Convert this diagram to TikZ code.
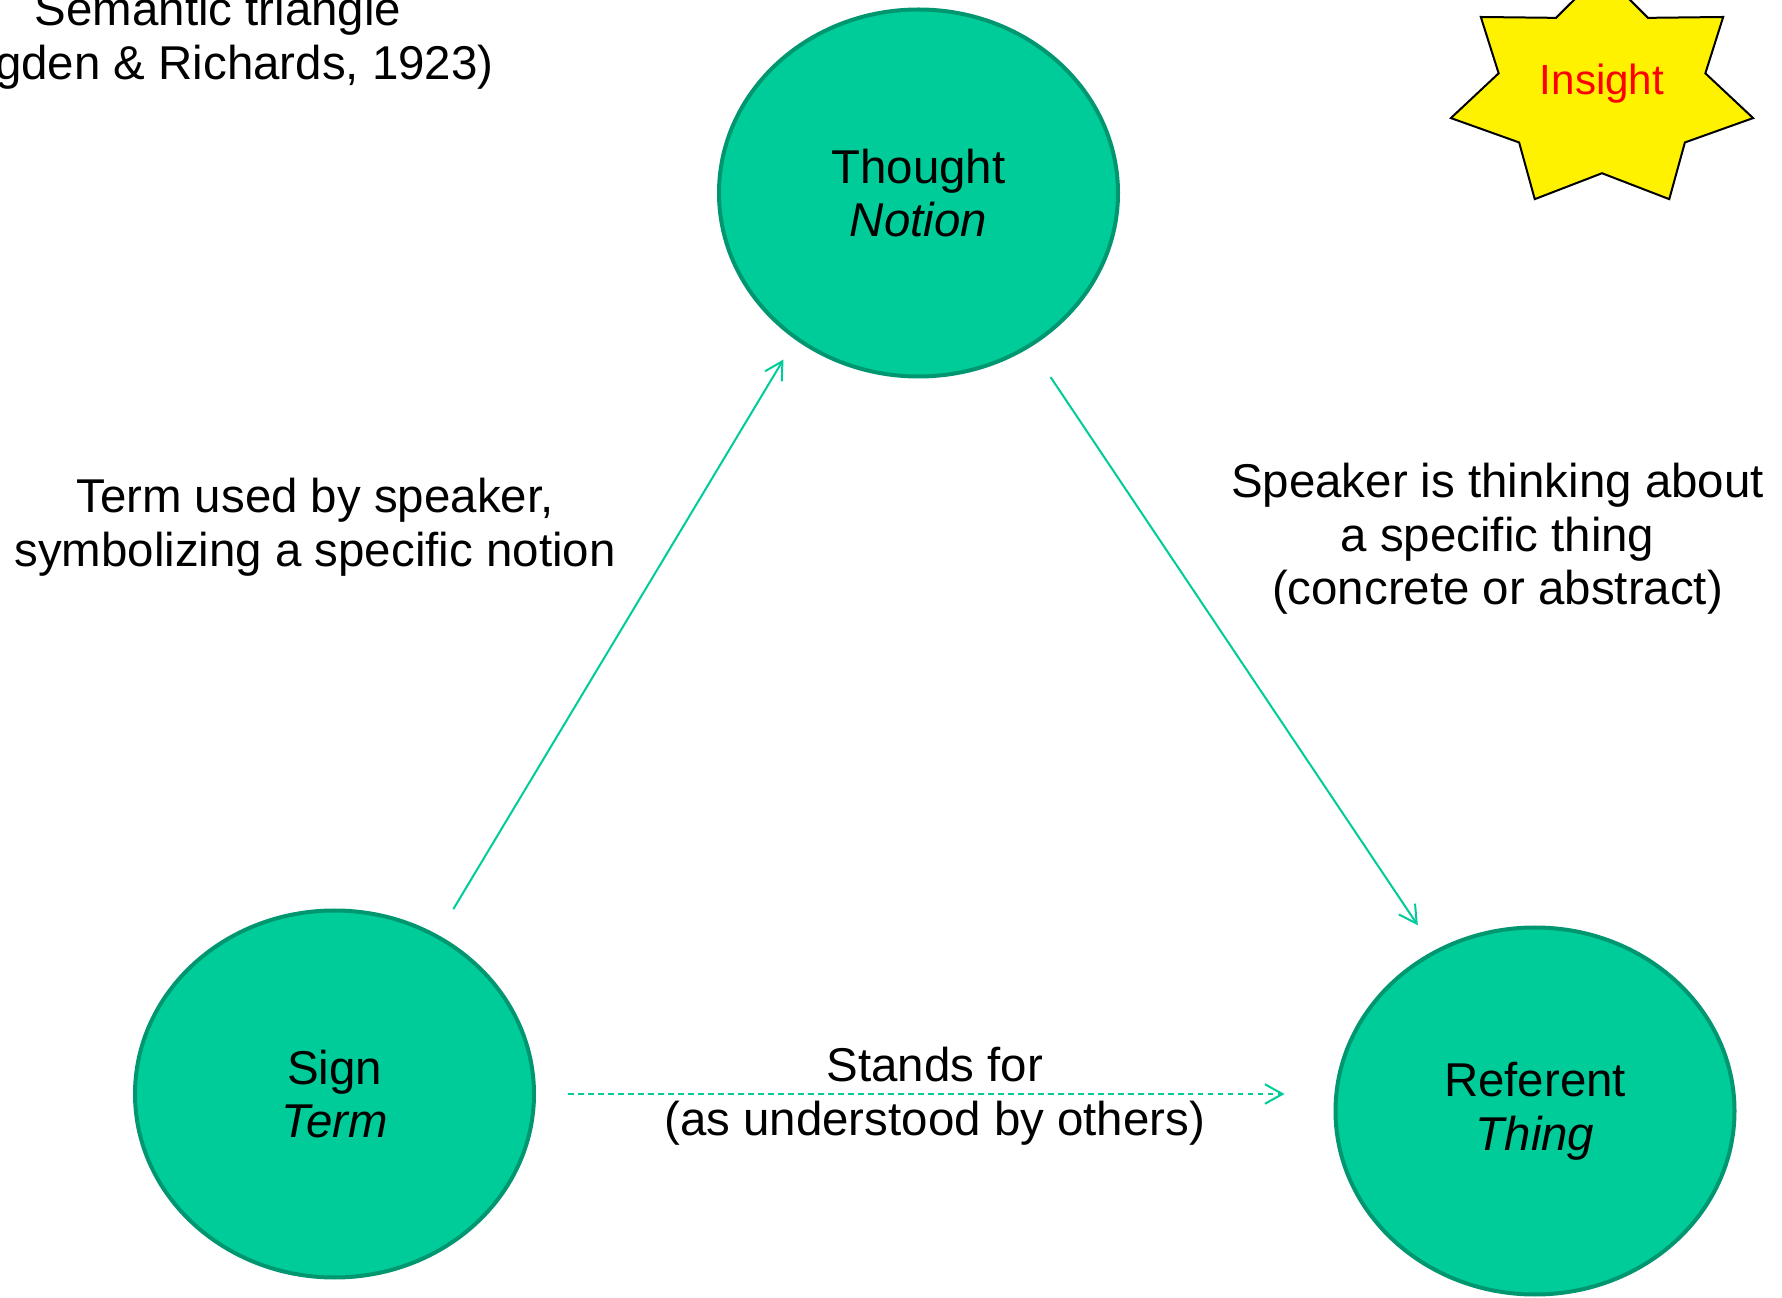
\documentclass[tikz,border=0pt]{standalone}
\usepackage{fontspec}
\setmainfont{Liberation Sans}
\usepackage{tikz}
\usetikzlibrary{arrows.meta,shapes,positioning,calc}
\definecolor{triangle-green}{RGB}{0,204,153}
\definecolor{triangle-edge}{RGB}{0,150,112}

\begin{document}
\begin{tikzpicture}[
>={Straight Barb[length=3.5mm,width=3.9mm]}, font=\fontsize{27}{30.5}\selectfont,
corner-node/.style = {ellipse,draw=triangle-edge,fill=triangle-green,line width=0.08cm,minimum width=7.98cm,minimum height=7.34cm,inner sep=0pt,align=center},
link/.style = {->,draw=triangle-green,line width=0.04cm},
label-node/.style = {align=center},
star-shape/.style = {draw=black,fill=yellow,line width=0.04cm,line join=miter}
]

\useasboundingbox (0,0) rectangle (35.64,25.94);

\node [corner-node] (thought) at (18.37, 22.08) {Thought\\\textit{Notion}};
\node [corner-node] (sign) at (6.69, 4.06) {Sign\\\textit{Term}};
\node [corner-node] (referent) at (30.70, 3.72) {Referent\\\textit{Thing}};

% star
\begin{scope}[shift={(32.04,24.11)}, xscale=3.1, yscale=2.39]
\draw[star-shape] (90:1) \foreach \k in {1,...,13} { -- ({90+\k*180/7}:{1-0.316*isodd(\k)}) } -- cycle;
\end{scope}
\node [text=red, font=\fontsize{24}{28}\selectfont] (insight) at (32.04, 24.26) {Insight};

% labels
\node [label-node] (title) at (4.36, 25.13) {Semantic triangle\\(Ogden \& Richards, 1923)};
\node [label-node] (term-label) at (6.30, 15.39) {Term used by speaker,\\symbolizing a specific notion};
\node [label-node] (thing-label) at (29.95, 15.16) {Speaker is thinking about\\a specific thing\\(concrete or abstract)};

% arrows
\draw[link, shorten <=0.6cm, shorten >=0.46cm] (sign.57.4) -- (thought.230.4);
\draw[link, shorten <=0.72cm, shorten >=0.6cm] (thought.306.4) -- (referent.122.1);
\draw[link, dash pattern=on 0.11cm off 0.09cm, shorten <=0.64cm, shorten >=0.98cm] (sign.east) -- node[label-node, midway, yshift=-0.05cm] {Stands for\\(as understood by others)} (sign.east -| referent.west);

\end{tikzpicture}
\end{document}
